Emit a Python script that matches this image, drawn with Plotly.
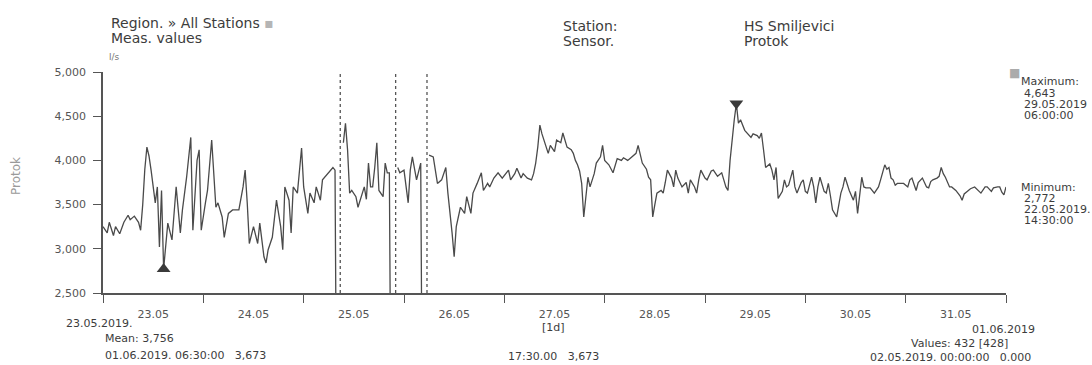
import plotly.graph_objects as go
import pandas as pd

# ---------------- data ----------------
start = pd.Timestamp("2019-05-23 00:00")
end = pd.Timestamp("2019-06-01 00:00")

# hours after 23.05.2019 00:00 and measured Protok (l/s); None = no data
hours = [
    0.0, 1.0, 1.5, 2.5, 3.0, 4.0, 5.0, 6.0, 6.5, 7.5, 8.5, 9.0, 9.5, 10.0, 10.5, 11.0, 11.5,
    12.5, 13.0, 13.5, 14.0, 14.5, 15.5, 16.5, 17.0, 17.5, 18.5, 19.0, 20.0, 21.0, 21.5, 22.5,
    23.0, 23.5, 24.5, 25.0, 26.0, 27.0, 27.5, 28.5, 29.0, 30.0, 31.0, 32.5, 33.5, 34.0, 34.5,
    35.0, 36.0, 37.0, 37.5, 38.5, 39.0, 39.5, 40.5, 41.5, 42.5, 43.0, 43.5, 44.5, 45.0, 45.5,
    46.5, 47.5, 48.0, 49.0, 49.5, 50.5, 51.0, 52.0, 52.5, 54.0, 55.0, 55.5, 56.0, 56.5,
    57.5, 58.0, 58.5, 59.0, 59.5, 60.5, 61.0, 61.5, 62.5, 63.0, 63.5, 64.0, 64.5, 65.0, 65.5,
    66.0, 67.0, 67.5, 68.0, 68.5, 69.0, 69.5,
    70.5, 71.0, 72.0, 73.0, 73.5, 74.0, 75.0, 76.0, 76.5, 77.0,
    78.0, 79.0, 80.0, 81.0, 82.0, 82.5, 83.5, 84.0, 84.5, 85.5, 86.5, 87.0, 88.0, 88.5, 89.5,
    90.5, 91.0, 92.0, 92.5, 93.5, 94.5, 95.5, 97.0, 97.5, 98.5, 99.0, 100.0, 100.5, 101.5,
    102.5, 103.0, 103.5, 104.0, 104.5, 105.0, 105.5, 106.5, 107.0, 108.0, 108.5, 109.5, 110.0,
    110.5, 111.0, 112.0, 112.5, 113.0, 113.5, 114.0, 114.5, 115.0, 115.5, 116.0, 116.5, 117.5,
    118.0, 118.5, 119.0, 119.5, 120.0, 121.0, 121.5, 122.0, 123.0, 124.0, 124.5, 125.5, 126.0,
    127.5, 128.0, 129.0, 130.0, 130.5, 131.0, 131.5, 132.0, 132.5, 133.5, 134.0, 134.5, 135.0,
    136.0, 136.5, 137.0, 137.5, 138.5, 139.5, 140.0, 140.5, 141.5, 142.0, 142.5, 143.0, 144.0,
    144.5, 145.5, 146.0, 147.0, 148.0, 148.5, 149.0, 149.5, 150.0, 151.0, 151.5, 152.0, 152.5,
    153.5, 154.0, 155.0, 155.5, 156.5, 157.0, 157.5, 158.0, 158.5, 159.5, 160.0, 160.5, 161.0,
    161.5, 162.5, 163.0, 163.5, 164.0, 165.0, 165.5, 166.0, 167.0, 167.5, 168.0, 168.5, 169.5,
    170.0, 170.5, 171.0, 171.5, 172.5, 173.0, 173.5, 174.0, 174.5, 175.5, 176.0, 176.5, 177.0,
    177.5, 178.5, 179.5, 180.0, 180.5, 181.5, 182.0, 182.5, 183.5, 184.5, 185.5, 186.0, 187.0,
    187.5, 188.0, 188.5, 189.0, 189.5, 190.0, 191.0, 191.5, 192.5, 193.0, 193.5, 194.0, 194.5,
    195.0, 196.0, 197.0, 197.5, 198.0, 198.5, 199.5, 200.0, 200.5, 201.0, 201.5, 202.5, 203.0,
    203.5, 204.0, 205.0, 205.5, 206.0, 207.0, 207.5, 208.5, 209.5, 210.0, 211.0, 211.5, 212.5,
    213.0, 214.0, 214.5, 215.0, 215.5, 216.0,
]
flow = [
    3250, 3180, 3300, 3150, 3250, 3170, 3300, 3380, 3330, 3370, 3300, 3210, 3500, 3900, 4150, 4050, 3890,
    3520, 3700, 3020, 3660, 2772, 3290, 3100, 3400, 3700, 3180, 3440, 3810, 4260, 3210, 4000,
    4120, 3210, 3520, 3660, 4230, 3470, 3520, 3360, 3130, 3400, 3440, 3440, 3700, 3890, 3520,
    3060, 3250, 3060, 3290, 2910, 2840, 2990, 3130, 3550, 3250, 2990, 3700, 3550, 3180, 3700,
    3630, 4140, 3700, 3400, 3630, 3520, 3700, 3550, 3780, 3860, 3920, 3890, 0, None,
    4200, 4420, 4120, 3630, 3660, 3590, 3470, 3550, 3700, 3560, 3970, 3700, 3700, 3920, 4200,
    3660, 3590, 3970, 3860, 3860, 0, None,
    3920, 3860, 3890, 3520, 3890, 4040, 3780, 3970, 0, None,
    4060, 4040, 3740, 3780, 3920, 3630, 3180, 2910, 3250, 3470, 3400, 3590, 3400, 3630, 3740,
    3860, 3660, 3740, 3700, 3800, 3860, 3800, 3890, 3780, 3850, 3910, 3800, 3850, 3800,
    3780, 3850, 3970, 4150, 4400, 4300, 4230, 4080, 4170, 4100, 4230, 4200, 4310,
    4220, 4150, 4120, 4080, 4000, 3950, 3880, 3740, 3360, 3600, 3810, 3700, 3850,
    3970, 4000, 4040, 4170, 4000, 3950, 3910, 3860, 4020, 4000, 4030, 4000, 4020,
    4080, 4170, 3970, 3900, 3810, 3780, 3360, 3500, 3630, 3660, 3630, 3750, 3890,
    3800, 3700, 3890, 3800, 3700, 3750, 3630, 3780, 3700, 3630, 3780, 3890, 3800,
    3780, 3880, 3890, 3820, 3860, 3780, 3700, 3660, 4000, 4460, 4643, 4420, 4460,
    4340, 4310, 4260, 4300, 4280, 4250, 4310, 4120, 3920, 3960, 3890, 3780, 3920,
    3570, 3650, 3780, 3700, 3720, 3890, 3700, 3630, 3750, 3780, 3650, 3630, 3810,
    3700, 3520, 3700, 3810, 3650, 3630, 3740, 3600, 3440, 3360, 3500, 3630, 3700,
    3810, 3660, 3550, 3650, 3400, 3810, 3700, 3690, 3690, 3630, 3700, 3780, 3950,
    3900, 3920, 3800, 3780, 3720, 3740, 3740, 3740, 3700, 3780, 3800, 3720, 3660,
    3750, 3800, 3700, 3690, 3760, 3780, 3800, 3820, 3920, 3850, 3810, 3700, 3700,
    3680, 3660, 3600, 3550, 3620, 3660, 3680, 3700, 3650, 3630, 3700, 3700, 3650,
    3690, 3700, 3700, 3640, 3610, 3700,
]
gap_hours = [56.75, 70.0, 77.5]          # missing-data markers (dashed)
min_hour, min_value = 14.5, 2772
max_hour, max_value = 151.5, 4643
y_ticks = [2500, 3000, 3500, 4000, 4500, 5000]
y_range = [2500, 5000]

times = [start + pd.Timedelta(hours=h) for h in hours]
gap_x, gap_y = [], []
for h in gap_hours:
    t = start + pd.Timedelta(hours=h)
    gap_x += [t, t, None]
    gap_y += [y_range[0], y_range[1], None]

FONT = "DejaVu Sans"
LINE = "#4a4a4a"
TXT = "#3c3c3c"

fig = go.Figure()
fig.add_trace(go.Scatter(x=times, y=flow, mode="lines", connectgaps=False,
                         line=dict(color=LINE, width=1.3), hoverinfo="skip"))
fig.add_trace(go.Scatter(x=gap_x, y=gap_y, mode="lines",
                         line=dict(color="#555", width=1.3, dash="dot"), hoverinfo="skip"))
fig.add_trace(go.Scatter(x=[start + pd.Timedelta(hours=min_hour)], y=[min_value], mode="markers",
                         marker=dict(symbol="triangle-up", size=12, color="#3a3a3a")))
fig.add_trace(go.Scatter(x=[start + pd.Timedelta(hours=max_hour)], y=[max_value], mode="markers",
                         marker=dict(symbol="triangle-down", size=12, color="#3a3a3a")))

L, R, T, B = 103, 1006, 72, 293


def px(x):
    return (x - L) / (R - L)


def py(y):
    return (B - y) / (B - T)


anns = []


def ann(text, x, y, size=11, xanchor="left", color=TXT, angle=0):
    anns.append(dict(text=text, x=px(x), y=py(y), xref="paper", yref="paper",
                     xanchor=xanchor, yanchor="middle", showarrow=False, textangle=angle,
                     font=dict(family=FONT, size=size, color=color)))


ann("Region. » All Stations <span style='color:#b5b5b5'>▪</span>", 109, 23, 14)
ann("Meas. values", 109, 38, 14)
ann("l/s", 107, 57, 9, color="#777")
ann("Station:", 561, 26, 14)
ann("Sensor.", 561, 41, 14)
ann("HS Smiljevici", 742, 26, 14)
ann("Protok", 742, 41, 14)

ann("■", 1007, 73, 12, color="#ababab")
ann("Maximum:", 1019, 82, 11)
ann("4,643", 1022, 93, 11)
ann("29.05.2019", 1022, 104, 11)
ann("06:00:00", 1022, 115, 11)
ann("Minimum:", 1019, 187, 11)
ann("2,772", 1022, 198, 11)
ann("22.05.2019.", 1022, 209, 11)
ann("14:30:00", 1022, 220, 11)

sp = "\u00a0\u00a0\u00a0"
ann("23.05.2019.", 64, 323, 11)
ann("Mean: 3,756", 103, 338, 11)
ann("01.06.2019. 06:30:00" + sp + "3,673", 103, 355, 11)
ann("[1d]", 553, 327, 11, xanchor="center")
ann("17:30.00" + sp + "3,673", 506, 356, 11)
ann("01.06.2019", 1037, 329, 11, xanchor="right")
ann("Values: 432 [428]", 1010, 343, 11, xanchor="right")
ann("02.05.2019. 00:00:00" + sp + "0.000", 1033, 357, 11, xanchor="right")
ann("Protok", 16, 176, 12, xanchor="center", color="#9a9a9a", angle=-90)

fig.update_layout(
    width=1092, height=365,
    margin=dict(l=L, r=1092 - R, t=T, b=365 - B, pad=0),
    paper_bgcolor="white", plot_bgcolor="white",
    showlegend=False,
    annotations=anns,
    font=dict(family=FONT, size=11, color="#555"),
    xaxis=dict(type="date", range=[start, end], tick0=start, dtick=86400000,
               ticklabelmode="period", tickformat="%d.%m", ticks="outside", ticklen=8,
               tickcolor="#555", tickwidth=1.3, showline=True, linecolor="#555", linewidth=1.6,
               showgrid=False, zeroline=False, tickfont=dict(family=FONT, size=11, color="#555"),
               ticklabelstandoff=2),
    yaxis=dict(range=y_range, tickvals=y_ticks, tickformat=",d", ticks="outside", ticklen=8,
               tickcolor="#555", tickwidth=1.3, showline=True, linecolor="#555", linewidth=1.6,
               showgrid=False, zeroline=False, tickfont=dict(family=FONT, size=11, color="#555"),
               ticklabelstandoff=5),
)

fig.write_html("out.html")
